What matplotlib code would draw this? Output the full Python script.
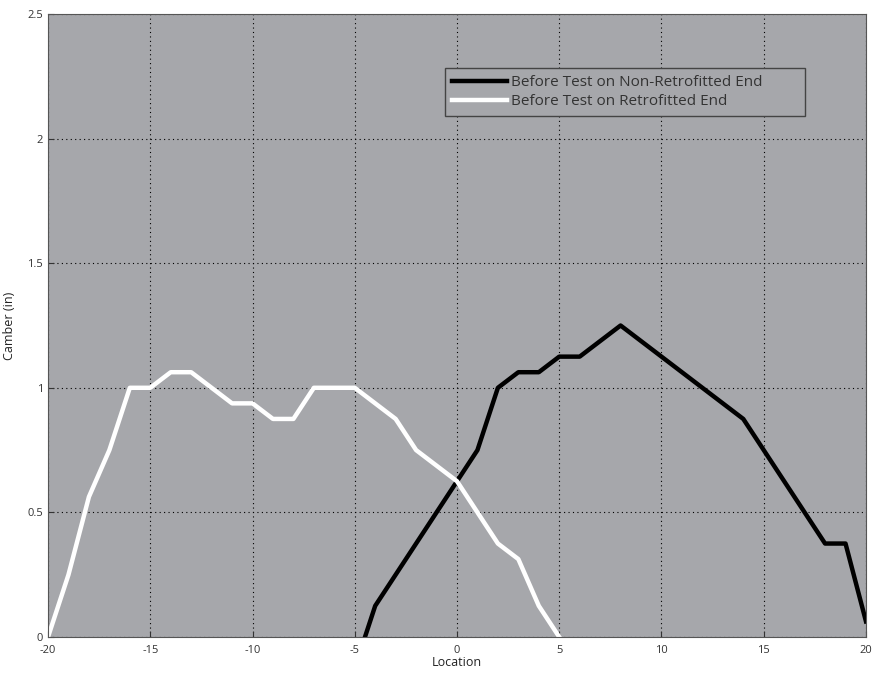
import matplotlib.pyplot as plt

# camber readings (in), 1/16 in steps
loc_nonretro = [-5, -4, -3, -2, -1, 0, 1, 2, 3, 4, 5, 6, 7, 8, 9, 10, 11, 12, 13, 14, 15, 16, 17, 18, 19, 20]
camber_nonretro = [-0.125, 0.125, 0.25, 0.375, 0.5, 0.625, 0.75, 1.0, 1.0625, 1.0625, 1.125, 1.125, 1.1875, 1.25,
                   1.1875, 1.125, 1.0625, 1.0, 0.9375, 0.875, 0.75, 0.625, 0.5, 0.375, 0.375, 0.0625]

loc_retro = [-20, -19, -18, -17, -16, -15, -14, -13, -12, -11, -10, -9, -8, -7, -6, -5, -4, -3, -2, -1, 0, 1, 2, 3, 4, 5]
camber_retro = [0.0, 0.25, 0.5625, 0.75, 1.0, 1.0, 1.0625, 1.0625, 1.0, 0.9375, 0.9375, 0.875, 0.875, 1.0, 1.0, 1.0,
                0.9375, 0.875, 0.75, 0.6875, 0.625, 0.5, 0.375, 0.3125, 0.125, 0.0]

plt.rcParams['font.family'] = ['Open Sans', 'DejaVu Sans']
plt.rcParams['axes.unicode_minus'] = False

fig = plt.figure(figsize=(8.78, 6.75), dpi=100)
ax = fig.add_axes([0.0547, 0.0563, 0.9316, 0.923])
ax.set_facecolor('#a6a7ab')

ax.plot(loc_nonretro, camber_nonretro, color='black', lw=3.2, label='Before Test on Non-Retrofitted End')
ax.plot(loc_retro, camber_retro, color='white', lw=3.2, label='Before Test on Retrofitted End')

ax.set_xlim(-20, 20)
ax.set_ylim(0, 2.5)
ax.set_xticks(range(-20, 21, 5))
ax.set_yticks([0, 0.5, 1, 1.5, 2, 2.5])
ax.set_yticklabels(['0', '0.5', '1', '1.5', '2', '2.5'])
ax.grid(True, color='black', linestyle=(0, (1, 3)), linewidth=0.8)
ax.tick_params(direction='in', labelsize=8, colors='#333333', length=4)
ax.tick_params(axis='x', pad=6)
for s in ax.spines.values():
    s.set_color('#555555')

ax.set_xlabel('Location', fontsize=9, color='#222222', labelpad=0)
ax.set_ylabel('Camber (in)', fontsize=9, color='#222222', labelpad=8)

leg = ax.legend(loc='upper left', bbox_to_anchor=(0.4853, 0.8379, 0.440, 0.0754), mode='expand',
                fontsize=11, fancybox=False, facecolor='#a6a7ab', edgecolor='#444444', framealpha=1,
                handlelength=3.6, borderpad=0.45, labelspacing=0.3, handletextpad=0.3, borderaxespad=0)
for t in leg.get_texts():
    t.set_color('#333333')

plt.savefig('out.png')
